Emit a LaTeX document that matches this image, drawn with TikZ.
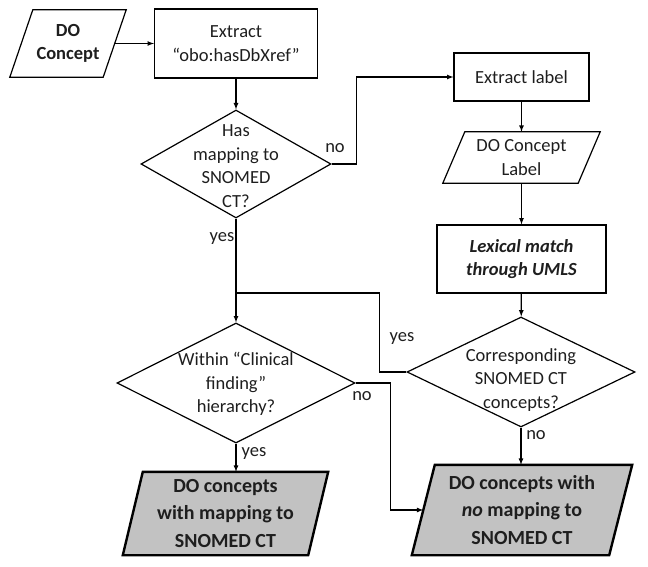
\documentclass[tikz,border=0pt]{standalone}
\usepackage{fontspec}
\setmainfont{Carlito}
\usetikzlibrary{shapes,arrows,positioning,backgrounds}

\definecolor{resgray}{RGB}{194,194,194}
\definecolor{inkgray}{RGB}{30,30,30}

% parallelogram round a node: #2 = node, #3 = half of the slant
\newcommand{\ioshape}[3][]{
	\draw[#1] ([xshift=-#3]#2.south west) -- ([xshift=-#3]#2.south east)
		-- ([xshift=#3]#2.north east) -- ([xshift=#3]#2.north west) -- cycle;
}

\tikzset{
	txt/.style={font=\fontsize{18.5}{23.5}\selectfont, align=center, text=inkgray, inner sep=0pt},
	proc/.style={txt, draw=black, line width=1.2pt, rectangle},
	io/.style={txt, rectangle},
	result/.style={io, font=\bfseries\fontsize{20}{27.5}\selectfont},
	iobox/.style={draw=black, line width=1.2pt, fill=white},
	resbox/.style={draw=black, line width=2.4pt, fill=resgray},
	decision/.style={draw=black, line width=1.2pt, diamond, inner sep=0pt},
	flow/.style={line width=1.2pt, >=latex},
	lbl/.style={txt}
}

\begin{document}
\begin{tikzpicture}[x=1pt, y=-1pt]
	\useasboundingbox (0,0) rectangle (648,567);

	% left column
	\node[io, minimum width=93pt, minimum height=67pt, font=\bfseries\fontsize{18.5}{22.5}\selectfont] (doc) at (68,43.5) {DO\\Concept};
	\node[proc, minimum width=163pt, minimum height=69pt] (xref) at (236,43.5) {Extract\\``obo:hasDbXref''};
	\node[decision, minimum width=190pt, minimum height=108pt] (has) at (236,164) {};
	\node[txt] (has-txt) at (236,166) {Has\\mapping to\\SNOMED\\CT?};
	\node[decision, minimum width=238pt, minimum height=120pt] (within) at (236,383) {};
	\node[txt] (within-txt) at (236,384) {Within ``Clinical\\finding''\\hierarchy?};
	\node[result, minimum width=185pt, minimum height=83pt] (map) at (225.5,513.5) {DO concepts\\with mapping to\\SNOMED CT};

	% right column
	\node[proc, minimum width=135pt, minimum height=48pt] (lbl) at (521.5,77) {Extract label};
	\node[io, minimum width=135pt, minimum height=51pt] (dolbl) at (521.5,157.5) {DO Concept\\Label};
	\node[proc, minimum width=169pt, minimum height=68pt, font=\bfseries\itshape\fontsize{18.5}{23.5}\selectfont] (lex) at (521.5,259) {Lexical match\\through UMLS};
	\node[decision, minimum width=228pt, minimum height=110pt] (corr) at (521,372) {};
	\node[txt] (corr-txt) at (521,380) {Corresponding\\SNOMED CT\\concepts?};
	\node[result, minimum width=197pt, minimum height=90pt] (nomap) at (522,510) {DO concepts with\\\textit{no} mapping to\\SNOMED CT};

	\begin{scope}[on background layer]
		\ioshape[iobox]{doc}{11.5pt}
		\ioshape[iobox]{dolbl}{11pt}
		\ioshape[resbox]{map}{10pt}
		\ioshape[resbox]{nomap}{11.5pt}
	\end{scope}

	\coordinate (join) at (236,293);

	% connectors
	\draw[flow, ->] (doc) -- (xref);
	\draw[flow, ->] (xref) -- (has);
	\draw[flow, ->] (has.east) -- ++(25,0) |- (lbl);
	\draw[flow, ->] (lbl) -- (dolbl);
	\draw[flow, ->] (dolbl) -- (lex);
	\draw[flow, ->] (lex) -- (corr);
	\draw[flow, ->] (has.south) -- (within.north);
	\draw[flow] (corr.west) -- ++(-27,0) |- (join);
	\draw[flow, ->] (within.south) -- (within.south |- map.north);
	\draw[flow, ->] (within.east) -- ++(35,0) |- (nomap);
	\draw[flow, ->] (corr.south) -- (corr.south |- nomap.north);

	% branch labels
	\node[lbl] (no-has) at (335,148) {no};
	\node[lbl] (yes-has) at (222,239) {yes};
	\node[lbl] (yes-corr) at (402,339) {yes};
	\node[lbl] (no-within) at (362,396) {no};
	\node[lbl] (yes-within) at (254,454) {yes};
	\node[lbl] (no-corr) at (536,435) {no};
\end{tikzpicture}
\end{document}
